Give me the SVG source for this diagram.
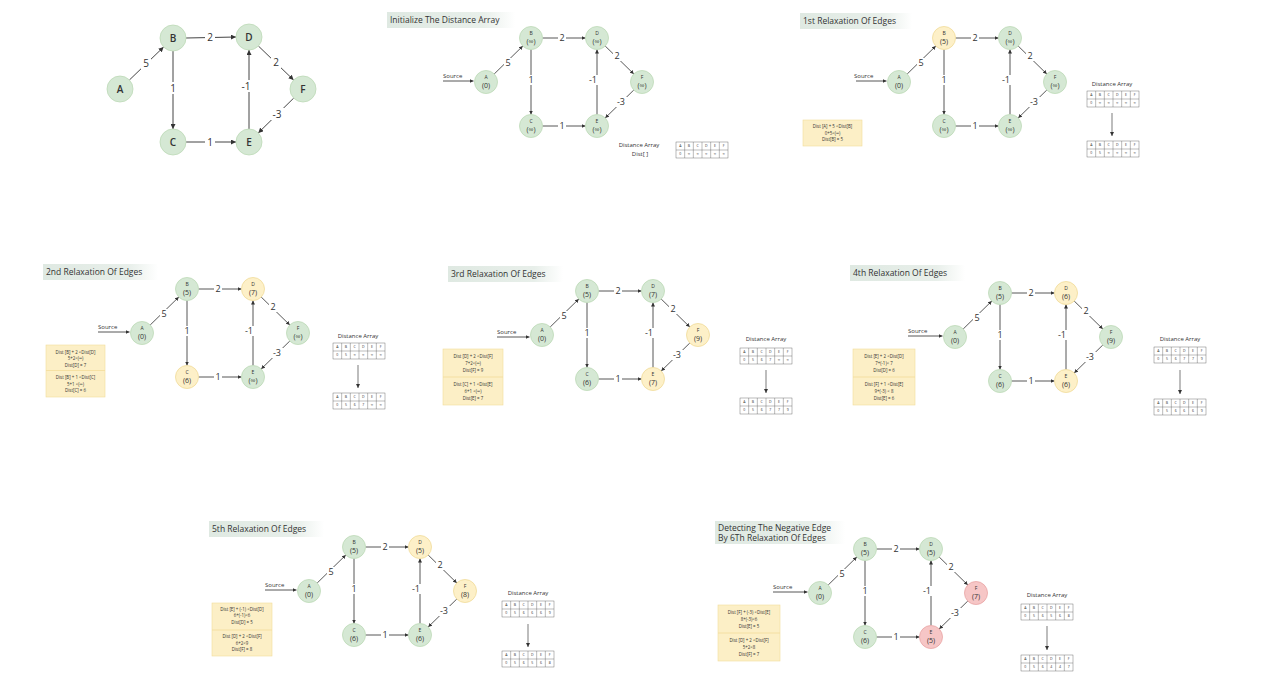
<svg xmlns="http://www.w3.org/2000/svg" xmlns:xlink="http://www.w3.org/1999/xlink" width="1280" height="683" viewBox="0 0 1280 683">
<defs>
<marker id="ah" viewBox="0 0 6 6" refX="6" refY="3" markerWidth="4" markerHeight="4" markerUnits="userSpaceOnUse" orient="auto"><path d="M0,0 L6,3 L0,6 z" fill="#333"/></marker>
<marker id="ahL" viewBox="0 0 6 6" refX="6" refY="3" markerWidth="5" markerHeight="5" markerUnits="userSpaceOnUse" orient="auto"><path d="M0,0 L6,3 L0,6 z" fill="#333"/></marker>
<linearGradient id="tg" x1="0" y1="0" x2="1" y2="0"><stop offset="0" stop-color="#dfe9e2"/><stop offset="0.75" stop-color="#e8efea"/><stop offset="1" stop-color="#ffffff"/></linearGradient>
<g id="grid">
<rect x="0" y="0" width="52" height="16" fill="#fff" stroke="#555" stroke-width="0.4"/>
<path d="M8.67,0V16M17.33,0V16M26,0V16M34.67,0V16M43.33,0V16M0,8H52" stroke="#555" stroke-width="0.4" fill="none"/>
</g>
</defs>
<style>
text{font-family:'Open Sans','Liberation Sans',sans-serif;fill:#333}
.e{stroke:#444;stroke-width:0.9;fill:none;marker-end:url(#ah)}
.e1{stroke:#444;stroke-width:1;fill:none;marker-end:url(#ahL)}
.bg{fill:#fff}
.lb{font-size:9px;text-anchor:middle}
.lb1{font-size:10px;text-anchor:middle}
.g{fill:#d5e8d4;stroke:#bdd9b6;stroke-width:0.8}
.y{fill:#fdf0c8;stroke:#f0da98;stroke-width:0.8}
.r{fill:#f6c6c6;stroke:#e9a5a5;stroke-width:0.8}
.nl{font-size:5px;text-anchor:middle}
.nv{font-size:7px;text-anchor:middle}
.n1{font-size:10px;text-anchor:middle;font-weight:600}
.ttl{font-size:8.5px}
.src{font-size:6px}
.box{fill:#fcefc6;stroke:#f2dc9b;stroke-width:0.6}
.sep{stroke:#f2dc9b;stroke-width:0.8}
.bt{font-size:4.4px;text-anchor:middle}
.da{font-size:6px;text-anchor:middle}
.tt{font-size:3.5px;text-anchor:middle}
.ar{stroke:#444;stroke-width:0.7;marker-end:url(#ah)}
</style>
<rect width="1280" height="683" fill="#fff"/>

<!-- Panel 1 -->
<g id="p1">
<g id="p1-connectors">
<line class="e1" x1="129.4" y1="80" x2="163.6" y2="47"/>
<line class="e1" x1="186" y1="38" x2="236" y2="37"/>
<line class="e1" x1="258.4" y1="46" x2="293.6" y2="80"/>
<line class="e1" x1="293.7" y1="98.1" x2="258.3" y2="132.9"/>
<line class="e1" x1="249" y1="129" x2="249" y2="50"/>
<line class="e1" x1="173" y1="51" x2="173" y2="129"/>
<line class="e1" x1="186" y1="142" x2="236" y2="142"/>
<rect class="bg" x="141" y="57" width="10" height="12"/><text class="lb1" x="146" y="66.5">5</text>
<rect class="bg" x="205" y="31" width="10" height="12"/><text class="lb1" x="210" y="40.5">2</text>
<rect class="bg" x="168" y="82" width="10" height="12"/><text class="lb1" x="173" y="91.5">1</text>
<rect class="bg" x="271" y="56" width="10" height="12"/><text class="lb1" x="276" y="65.5">2</text>
<rect class="bg" x="239" y="80" width="14" height="12"/><text class="lb1" x="246" y="89.5">-1</text>
<rect class="bg" x="270" y="108" width="14" height="12"/><text class="lb1" x="277" y="117.5">-3</text>
<rect class="bg" x="205" y="136" width="10" height="12"/><text class="lb1" x="210" y="145.5">1</text>
</g>
<g id="p1-A"><circle class="g" cx="120" cy="89" r="13"/><text class="n1" x="120" y="92.5">A</text></g>
<g id="p1-B"><circle class="g" cx="173" cy="38" r="13"/><text class="n1" x="173" y="41.5">B</text></g>
<g id="p1-D"><circle class="g" cx="249" cy="37" r="13"/><text class="n1" x="249" y="40.5">D</text></g>
<g id="p1-F"><circle class="g" cx="303" cy="89" r="13"/><text class="n1" x="303" y="92.5">F</text></g>
<g id="p1-C"><circle class="g" cx="173" cy="142" r="13"/><text class="n1" x="173" y="145.5">C</text></g>
<g id="p1-E"><circle class="g" cx="249" cy="142" r="13"/><text class="n1" x="249" y="145.5">E</text></g>
</g>

<!-- Panel 2 -->
<g id="p2">
<rect x="387" y="12" width="128" height="16" fill="url(#tg)"/>
<text class="ttl" x="390" y="23">Initialize The Distance Array</text>
<g transform="translate(486,82)">
<g id="p2-connectors">
<line class="e" x1="-43" y1="-1" x2="-12.5" y2="-1"/>
<line class="e" x1="8.2" y1="-8" x2="36.8" y2="-36"/>
<line class="e" x1="56.5" y1="-44" x2="99.5" y2="-44"/>
<line class="e" x1="119.2" y1="-36" x2="147.8" y2="-8"/>
<line class="e" x1="147.8" y1="8" x2="119.2" y2="36"/>
<line class="e" x1="111" y1="32.5" x2="111" y2="-32.5"/>
<line class="e" x1="45" y1="-32.5" x2="45" y2="32.5"/>
<line class="e" x1="56.5" y1="44" x2="99.5" y2="44"/>
<rect class="bg" x="18" y="-24" width="8" height="10"/><text class="lb" x="22" y="-15.8">5</text>
<rect class="bg" x="72" y="-49" width="8" height="10"/><text class="lb" x="76" y="-40.8">2</text>
<rect class="bg" x="127" y="-31" width="8" height="10"/><text class="lb" x="131" y="-22.8">2</text>
<rect class="bg" x="101" y="-7" width="12" height="10"/><text class="lb" x="107" y="1.2">-1</text>
<rect class="bg" x="129" y="15" width="12" height="10"/><text class="lb" x="135" y="23.2">-3</text>
<rect class="bg" x="41" y="-7" width="8" height="10"/><text class="lb" x="45" y="1.2">1</text>
<rect class="bg" x="72" y="39" width="8" height="10"/><text class="lb" x="76" y="47.2">1</text>
<text class="src" x="-43" y="-4">Source</text>
</g>
<g id="p2-A"><circle class="g" cx="0" cy="0" r="11.5"/><text class="nl" x="0" y="-3">A</text><text class="nv" x="0" y="5.5">(0)</text></g>
<g id="p2-B"><circle class="g" cx="45" cy="-44" r="11.5"/><text class="nl" x="45" y="-47">B</text><text class="nv" x="45" y="-38.5">(∞)</text></g>
<g id="p2-D"><circle class="g" cx="111" cy="-44" r="11.5"/><text class="nl" x="111" y="-47">D</text><text class="nv" x="111" y="-38.5">(∞)</text></g>
<g id="p2-F"><circle class="g" cx="156" cy="0" r="11.5"/><text class="nl" x="156" y="-3">F</text><text class="nv" x="156" y="5.5">(∞)</text></g>
<g id="p2-C"><circle class="g" cx="45" cy="44" r="11.5"/><text class="nl" x="45" y="41">C</text><text class="nv" x="45" y="49.5">(∞)</text></g>
<g id="p2-E"><circle class="g" cx="111" cy="44" r="11.5"/><text class="nl" x="111" y="41">E</text><text class="nv" x="111" y="49.5">(∞)</text></g>
</g>
<text class="da" x="639" y="147">Distance Array</text>
<text class="da" x="640" y="156">Dist[ ]</text>
<g id="p2-table"><use href="#grid" x="676" y="142"/>
<text class="tt" x="680.3" y="147.3">A</text><text class="tt" x="689" y="147.3">B</text><text class="tt" x="697.7" y="147.3">C</text><text class="tt" x="706.3" y="147.3">D</text><text class="tt" x="715" y="147.3">E</text><text class="tt" x="723.7" y="147.3">F</text>
<text class="tt" x="680.3" y="155.3">0</text><text class="tt" x="689" y="155.3">∞</text><text class="tt" x="697.7" y="155.3">∞</text><text class="tt" x="706.3" y="155.3">∞</text><text class="tt" x="715" y="155.3">∞</text><text class="tt" x="723.7" y="155.3">∞</text></g>
</g>

<!-- Panel 3 -->
<g id="p3">
<rect x="800" y="13" width="112" height="16" fill="url(#tg)"/>
<text class="ttl" x="803" y="24">1st Relaxation Of Edges</text>
<g transform="translate(899,82)">
<g id="p3-connectors">
<line class="e" x1="-43" y1="-1" x2="-12.5" y2="-1"/>
<line class="e" x1="8.2" y1="-8" x2="36.8" y2="-36"/>
<line class="e" x1="56.5" y1="-44" x2="99.5" y2="-44"/>
<line class="e" x1="119.2" y1="-36" x2="147.8" y2="-8"/>
<line class="e" x1="147.8" y1="8" x2="119.2" y2="36"/>
<line class="e" x1="111" y1="32.5" x2="111" y2="-32.5"/>
<line class="e" x1="45" y1="-32.5" x2="45" y2="32.5"/>
<line class="e" x1="56.5" y1="44" x2="99.5" y2="44"/>
<rect class="bg" x="18" y="-24" width="8" height="10"/><text class="lb" x="22" y="-15.8">5</text>
<rect class="bg" x="72" y="-49" width="8" height="10"/><text class="lb" x="76" y="-40.8">2</text>
<rect class="bg" x="127" y="-31" width="8" height="10"/><text class="lb" x="131" y="-22.8">2</text>
<rect class="bg" x="101" y="-7" width="12" height="10"/><text class="lb" x="107" y="1.2">-1</text>
<rect class="bg" x="129" y="15" width="12" height="10"/><text class="lb" x="135" y="23.2">-3</text>
<rect class="bg" x="41" y="-7" width="8" height="10"/><text class="lb" x="45" y="1.2">1</text>
<rect class="bg" x="72" y="39" width="8" height="10"/><text class="lb" x="76" y="47.2">1</text>
<text class="src" x="-45" y="-4">Source</text>
</g>
<g id="p3-A"><circle class="g" cx="0" cy="0" r="11.5"/><text class="nl" x="0" y="-3">A</text><text class="nv" x="0" y="5.5">(0)</text></g>
<g id="p3-B"><circle class="y" cx="45" cy="-44" r="11.5"/><text class="nl" x="45" y="-47">B</text><text class="nv" x="45" y="-38.5">(5)</text></g>
<g id="p3-D"><circle class="g" cx="111" cy="-44" r="11.5"/><text class="nl" x="111" y="-47">D</text><text class="nv" x="111" y="-38.5">(∞)</text></g>
<g id="p3-F"><circle class="g" cx="156" cy="0" r="11.5"/><text class="nl" x="156" y="-3">F</text><text class="nv" x="156" y="5.5">(∞)</text></g>
<g id="p3-C"><circle class="g" cx="45" cy="44" r="11.5"/><text class="nl" x="45" y="41">C</text><text class="nv" x="45" y="49.5">(∞)</text></g>
<g id="p3-E"><circle class="g" cx="111" cy="44" r="11.5"/><text class="nl" x="111" y="41">E</text><text class="nv" x="111" y="49.5">(∞)</text></g>
</g>
<g id="p3-note"><rect class="box" x="803" y="120" width="59" height="26"/>
<text class="bt" x="832.5" y="128">Dist [A] + 5 &lt;Dist[B]</text>
<text class="bt" x="832.5" y="134.5">0+5&lt;(∞)</text>
<text class="bt" x="832.5" y="141">Dist[B] = 5</text></g>
<text class="da" x="1112" y="86">Distance Array</text>
<g id="p3-table1"><use href="#grid" x="1087" y="91"/>
<text class="tt" x="1091.3" y="96.3">A</text><text class="tt" x="1100" y="96.3">B</text><text class="tt" x="1108.7" y="96.3">C</text><text class="tt" x="1117.3" y="96.3">D</text><text class="tt" x="1126" y="96.3">E</text><text class="tt" x="1134.7" y="96.3">F</text>
<text class="tt" x="1091.3" y="104.3">0</text><text class="tt" x="1100" y="104.3">∞</text><text class="tt" x="1108.7" y="104.3">∞</text><text class="tt" x="1117.3" y="104.3">∞</text><text class="tt" x="1126" y="104.3">∞</text><text class="tt" x="1134.7" y="104.3">∞</text></g>
<line class="ar" x1="1112" y1="113" x2="1112" y2="136"/>
<g id="p3-table2"><use href="#grid" x="1087" y="141"/>
<text class="tt" x="1091.3" y="146.3">A</text><text class="tt" x="1100" y="146.3">B</text><text class="tt" x="1108.7" y="146.3">C</text><text class="tt" x="1117.3" y="146.3">D</text><text class="tt" x="1126" y="146.3">E</text><text class="tt" x="1134.7" y="146.3">F</text>
<text class="tt" x="1091.3" y="154.3">0</text><text class="tt" x="1100" y="154.3">5</text><text class="tt" x="1108.7" y="154.3">∞</text><text class="tt" x="1117.3" y="154.3">∞</text><text class="tt" x="1126" y="154.3">∞</text><text class="tt" x="1134.7" y="154.3">∞</text></g>
</g>

<!-- Panel 4 -->
<g id="p4">
<rect x="43" y="264" width="115" height="16" fill="url(#tg)"/>
<text class="ttl" x="46" y="275">2nd Relaxation Of Edges</text>
<g transform="translate(142,333)">
<g id="p4-connectors">
<line class="e" x1="-44" y1="-1" x2="-12.5" y2="-1"/>
<line class="e" x1="8.2" y1="-8" x2="36.8" y2="-36"/>
<line class="e" x1="56.5" y1="-44" x2="99.5" y2="-44"/>
<line class="e" x1="119.2" y1="-36" x2="147.8" y2="-8"/>
<line class="e" x1="147.8" y1="8" x2="119.2" y2="36"/>
<line class="e" x1="111" y1="32.5" x2="111" y2="-32.5"/>
<line class="e" x1="45" y1="-32.5" x2="45" y2="32.5"/>
<line class="e" x1="56.5" y1="44" x2="99.5" y2="44"/>
<rect class="bg" x="18" y="-24" width="8" height="10"/><text class="lb" x="22" y="-15.8">5</text>
<rect class="bg" x="72" y="-49" width="8" height="10"/><text class="lb" x="76" y="-40.8">2</text>
<rect class="bg" x="127" y="-31" width="8" height="10"/><text class="lb" x="131" y="-22.8">2</text>
<rect class="bg" x="101" y="-7" width="12" height="10"/><text class="lb" x="107" y="1.2">-1</text>
<rect class="bg" x="129" y="15" width="12" height="10"/><text class="lb" x="135" y="23.2">-3</text>
<rect class="bg" x="41" y="-7" width="8" height="10"/><text class="lb" x="45" y="1.2">1</text>
<rect class="bg" x="72" y="39" width="8" height="10"/><text class="lb" x="76" y="47.2">1</text>
<text class="src" x="-44" y="-4">Source</text>
</g>
<g id="p4-A"><circle class="g" cx="0" cy="0" r="11.5"/><text class="nl" x="0" y="-3">A</text><text class="nv" x="0" y="5.5">(0)</text></g>
<g id="p4-B"><circle class="g" cx="45" cy="-44" r="11.5"/><text class="nl" x="45" y="-47">B</text><text class="nv" x="45" y="-38.5">(5)</text></g>
<g id="p4-D"><circle class="y" cx="111" cy="-44" r="11.5"/><text class="nl" x="111" y="-47">D</text><text class="nv" x="111" y="-38.5">(7)</text></g>
<g id="p4-F"><circle class="g" cx="156" cy="0" r="11.5"/><text class="nl" x="156" y="-3">F</text><text class="nv" x="156" y="5.5">(∞)</text></g>
<g id="p4-C"><circle class="y" cx="45" cy="44" r="11.5"/><text class="nl" x="45" y="41">C</text><text class="nv" x="45" y="49.5">(6)</text></g>
<g id="p4-E"><circle class="g" cx="111" cy="44" r="11.5"/><text class="nl" x="111" y="41">E</text><text class="nv" x="111" y="49.5">(∞)</text></g>
</g>
<g id="p4-note"><rect class="box" x="46" y="345" width="59" height="52"/>
<line class="sep" x1="46" y1="370.5" x2="105" y2="370.5"/>
<text class="bt" x="75.5" y="353.5">Dist [B] + 2 &lt;Dist[D]</text>
<text class="bt" x="75.5" y="360">5+2&lt;(∞)</text>
<text class="bt" x="75.5" y="366.5">Dist[D] = 7</text>
<text class="bt" x="75.5" y="379">Dist [B] + 1 &lt;Dist[C]</text>
<text class="bt" x="75.5" y="385.5">5+1 &lt;(∞)</text>
<text class="bt" x="75.5" y="392">Dist[C] = 6</text></g>
<text class="da" x="358" y="338">Distance Array</text>
<g id="p4-table1"><use href="#grid" x="333" y="343"/>
<text class="tt" x="337.3" y="348.3">A</text><text class="tt" x="346" y="348.3">B</text><text class="tt" x="354.7" y="348.3">C</text><text class="tt" x="363.3" y="348.3">D</text><text class="tt" x="372" y="348.3">E</text><text class="tt" x="380.7" y="348.3">F</text>
<text class="tt" x="337.3" y="356.3">0</text><text class="tt" x="346" y="356.3">5</text><text class="tt" x="354.7" y="356.3">∞</text><text class="tt" x="363.3" y="356.3">∞</text><text class="tt" x="372" y="356.3">∞</text><text class="tt" x="380.7" y="356.3">∞</text></g>
<line class="ar" x1="358" y1="365" x2="358" y2="388"/>
<g id="p4-table2"><use href="#grid" x="333" y="393"/>
<text class="tt" x="337.3" y="398.3">A</text><text class="tt" x="346" y="398.3">B</text><text class="tt" x="354.7" y="398.3">C</text><text class="tt" x="363.3" y="398.3">D</text><text class="tt" x="372" y="398.3">E</text><text class="tt" x="380.7" y="398.3">F</text>
<text class="tt" x="337.3" y="406.3">0</text><text class="tt" x="346" y="406.3">5</text><text class="tt" x="354.7" y="406.3">6</text><text class="tt" x="363.3" y="406.3">7</text><text class="tt" x="372" y="406.3">∞</text><text class="tt" x="380.7" y="406.3">∞</text></g>
</g>

<!-- Panel 5 -->
<g id="p5">
<rect x="448" y="266" width="115" height="16" fill="url(#tg)"/>
<text class="ttl" x="451" y="277">3rd Relaxation Of Edges</text>
<g transform="translate(542,335)">
<g id="p5-connectors">
<line class="e" x1="-45" y1="2" x2="-12.5" y2="2"/>
<line class="e" x1="8.2" y1="-8" x2="36.8" y2="-36"/>
<line class="e" x1="56.5" y1="-44" x2="99.5" y2="-44"/>
<line class="e" x1="119.2" y1="-36" x2="147.8" y2="-8"/>
<line class="e" x1="147.8" y1="8" x2="119.2" y2="36"/>
<line class="e" x1="111" y1="32.5" x2="111" y2="-32.5"/>
<line class="e" x1="45" y1="-32.5" x2="45" y2="32.5"/>
<line class="e" x1="56.5" y1="44" x2="99.5" y2="44"/>
<rect class="bg" x="18" y="-24" width="8" height="10"/><text class="lb" x="22" y="-15.8">5</text>
<rect class="bg" x="72" y="-49" width="8" height="10"/><text class="lb" x="76" y="-40.8">2</text>
<rect class="bg" x="127" y="-31" width="8" height="10"/><text class="lb" x="131" y="-22.8">2</text>
<rect class="bg" x="101" y="-7" width="12" height="10"/><text class="lb" x="107" y="1.2">-1</text>
<rect class="bg" x="129" y="15" width="12" height="10"/><text class="lb" x="135" y="23.2">-3</text>
<rect class="bg" x="41" y="-7" width="8" height="10"/><text class="lb" x="45" y="1.2">1</text>
<rect class="bg" x="72" y="39" width="8" height="10"/><text class="lb" x="76" y="47.2">1</text>
<text class="src" x="-45" y="-1">Source</text>
</g>
<g id="p5-A"><circle class="g" cx="0" cy="0" r="11.5"/><text class="nl" x="0" y="-3">A</text><text class="nv" x="0" y="5.5">(0)</text></g>
<g id="p5-B"><circle class="g" cx="45" cy="-44" r="11.5"/><text class="nl" x="45" y="-47">B</text><text class="nv" x="45" y="-38.5">(5)</text></g>
<g id="p5-D"><circle class="g" cx="111" cy="-44" r="11.5"/><text class="nl" x="111" y="-47">D</text><text class="nv" x="111" y="-38.5">(7)</text></g>
<g id="p5-F"><circle class="y" cx="156" cy="0" r="11.5"/><text class="nl" x="156" y="-3">F</text><text class="nv" x="156" y="5.5">(9)</text></g>
<g id="p5-C"><circle class="g" cx="45" cy="44" r="11.5"/><text class="nl" x="45" y="41">C</text><text class="nv" x="45" y="49.5">(6)</text></g>
<g id="p5-E"><circle class="y" cx="111" cy="44" r="11.5"/><text class="nl" x="111" y="41">E</text><text class="nv" x="111" y="49.5">(7)</text></g>
</g>
<g id="p5-note"><rect class="box" x="443" y="349" width="60" height="56"/>
<line class="sep" x1="443" y1="377" x2="503" y2="377"/>
<text class="bt" x="473" y="357.5">Dist [D] + 2 &lt;Dist[F]</text>
<text class="bt" x="473" y="364.5">7+2&lt;(∞)</text>
<text class="bt" x="473" y="371.5">Dist[F] = 9</text>
<text class="bt" x="473" y="386">Dist [C] + 1 &lt;Dist[E]</text>
<text class="bt" x="473" y="393">6+1 &lt;(∞)</text>
<text class="bt" x="473" y="400">Dist[E] = 7</text></g>
<text class="da" x="766" y="341">Distance Array</text>
<g id="p5-table1"><use href="#grid" x="740" y="348"/>
<text class="tt" x="744.3" y="353.3">A</text><text class="tt" x="753" y="353.3">B</text><text class="tt" x="761.7" y="353.3">C</text><text class="tt" x="770.3" y="353.3">D</text><text class="tt" x="779" y="353.3">E</text><text class="tt" x="787.7" y="353.3">F</text>
<text class="tt" x="744.3" y="361.3">0</text><text class="tt" x="753" y="361.3">5</text><text class="tt" x="761.7" y="361.3">6</text><text class="tt" x="770.3" y="361.3">7</text><text class="tt" x="779" y="361.3">∞</text><text class="tt" x="787.7" y="361.3">∞</text></g>
<line class="ar" x1="766" y1="370" x2="766" y2="393"/>
<g id="p5-table2"><use href="#grid" x="740" y="398"/>
<text class="tt" x="744.3" y="403.3">A</text><text class="tt" x="753" y="403.3">B</text><text class="tt" x="761.7" y="403.3">C</text><text class="tt" x="770.3" y="403.3">D</text><text class="tt" x="779" y="403.3">E</text><text class="tt" x="787.7" y="403.3">F</text>
<text class="tt" x="744.3" y="411.3">0</text><text class="tt" x="753" y="411.3">5</text><text class="tt" x="761.7" y="411.3">6</text><text class="tt" x="770.3" y="411.3">7</text><text class="tt" x="779" y="411.3">7</text><text class="tt" x="787.7" y="411.3">9</text></g>
</g>

<!-- Panel 6 -->
<g id="p6">
<rect x="850" y="265" width="115" height="16" fill="url(#tg)"/>
<text class="ttl" x="853" y="276">4th Relaxation Of Edges</text>
<g transform="translate(955,337)">
<g id="p6-connectors">
<line class="e" x1="-47" y1="-1" x2="-12.5" y2="-1"/>
<line class="e" x1="8.2" y1="-8" x2="36.8" y2="-36"/>
<line class="e" x1="56.5" y1="-44" x2="99.5" y2="-44"/>
<line class="e" x1="119.2" y1="-36" x2="147.8" y2="-8"/>
<line class="e" x1="147.8" y1="8" x2="119.2" y2="36"/>
<line class="e" x1="111" y1="32.5" x2="111" y2="-32.5"/>
<line class="e" x1="45" y1="-32.5" x2="45" y2="32.5"/>
<line class="e" x1="56.5" y1="44" x2="99.5" y2="44"/>
<rect class="bg" x="18" y="-24" width="8" height="10"/><text class="lb" x="22" y="-15.8">5</text>
<rect class="bg" x="72" y="-49" width="8" height="10"/><text class="lb" x="76" y="-40.8">2</text>
<rect class="bg" x="127" y="-31" width="8" height="10"/><text class="lb" x="131" y="-22.8">2</text>
<rect class="bg" x="101" y="-7" width="12" height="10"/><text class="lb" x="107" y="1.2">-1</text>
<rect class="bg" x="129" y="15" width="12" height="10"/><text class="lb" x="135" y="23.2">-3</text>
<rect class="bg" x="41" y="-7" width="8" height="10"/><text class="lb" x="45" y="1.2">1</text>
<rect class="bg" x="72" y="39" width="8" height="10"/><text class="lb" x="76" y="47.2">1</text>
<text class="src" x="-47" y="-4">Source</text>
</g>
<g id="p6-A"><circle class="g" cx="0" cy="0" r="11.5"/><text class="nl" x="0" y="-3">A</text><text class="nv" x="0" y="5.5">(0)</text></g>
<g id="p6-B"><circle class="g" cx="45" cy="-44" r="11.5"/><text class="nl" x="45" y="-47">B</text><text class="nv" x="45" y="-38.5">(5)</text></g>
<g id="p6-D"><circle class="y" cx="111" cy="-44" r="11.5"/><text class="nl" x="111" y="-47">D</text><text class="nv" x="111" y="-38.5">(6)</text></g>
<g id="p6-F"><circle class="g" cx="156" cy="0" r="11.5"/><text class="nl" x="156" y="-3">F</text><text class="nv" x="156" y="5.5">(9)</text></g>
<g id="p6-C"><circle class="g" cx="45" cy="44" r="11.5"/><text class="nl" x="45" y="41">C</text><text class="nv" x="45" y="49.5">(6)</text></g>
<g id="p6-E"><circle class="y" cx="111" cy="44" r="11.5"/><text class="nl" x="111" y="41">E</text><text class="nv" x="111" y="49.5">(6)</text></g>
</g>
<g id="p6-note"><rect class="box" x="853" y="349" width="62" height="56"/>
<line class="sep" x1="853" y1="377" x2="915" y2="377"/>
<text class="bt" x="884" y="357.5">Dist [E] + 2 &lt;Dist[D]</text>
<text class="bt" x="884" y="364.5">7+(-1)&lt; 7</text>
<text class="bt" x="884" y="371.5">Dist[D] = 6</text>
<text class="bt" x="884" y="386">Dist [F] + 1 &lt;Dist[E]</text>
<text class="bt" x="884" y="393">9+(-3) &lt; 8</text>
<text class="bt" x="884" y="400">Dist[E] = 6</text></g>
<text class="da" x="1180" y="341">Distance Array</text>
<g id="p6-table1"><use href="#grid" x="1154" y="347"/>
<text class="tt" x="1158.3" y="352.3">A</text><text class="tt" x="1167" y="352.3">B</text><text class="tt" x="1175.7" y="352.3">C</text><text class="tt" x="1184.3" y="352.3">D</text><text class="tt" x="1193" y="352.3">E</text><text class="tt" x="1201.7" y="352.3">F</text>
<text class="tt" x="1158.3" y="360.3">0</text><text class="tt" x="1167" y="360.3">5</text><text class="tt" x="1175.7" y="360.3">6</text><text class="tt" x="1184.3" y="360.3">7</text><text class="tt" x="1193" y="360.3">7</text><text class="tt" x="1201.7" y="360.3">9</text></g>
<line class="ar" x1="1180" y1="370" x2="1180" y2="394"/>
<g id="p6-table2"><use href="#grid" x="1154" y="399"/>
<text class="tt" x="1158.3" y="404.3">A</text><text class="tt" x="1167" y="404.3">B</text><text class="tt" x="1175.7" y="404.3">C</text><text class="tt" x="1184.3" y="404.3">D</text><text class="tt" x="1193" y="404.3">E</text><text class="tt" x="1201.7" y="404.3">F</text>
<text class="tt" x="1158.3" y="412.3">0</text><text class="tt" x="1167" y="412.3">5</text><text class="tt" x="1175.7" y="412.3">6</text><text class="tt" x="1184.3" y="412.3">6</text><text class="tt" x="1193" y="412.3">6</text><text class="tt" x="1201.7" y="412.3">9</text></g>
</g>

<!-- Panel 7 -->
<g id="p7">
<rect x="209" y="521" width="115" height="16" fill="url(#tg)"/>
<text class="ttl" x="212" y="532">5th Relaxation Of Edges</text>
<g transform="translate(309,591)">
<g id="p7-connectors">
<line class="e" x1="-44" y1="-1" x2="-12.5" y2="-1"/>
<line class="e" x1="8.2" y1="-8" x2="36.8" y2="-36"/>
<line class="e" x1="56.5" y1="-44" x2="99.5" y2="-44"/>
<line class="e" x1="119.2" y1="-36" x2="147.8" y2="-8"/>
<line class="e" x1="147.8" y1="8" x2="119.2" y2="36"/>
<line class="e" x1="111" y1="32.5" x2="111" y2="-32.5"/>
<line class="e" x1="45" y1="-32.5" x2="45" y2="32.5"/>
<line class="e" x1="56.5" y1="44" x2="99.5" y2="44"/>
<rect class="bg" x="18" y="-24" width="8" height="10"/><text class="lb" x="22" y="-15.8">5</text>
<rect class="bg" x="72" y="-49" width="8" height="10"/><text class="lb" x="76" y="-40.8">2</text>
<rect class="bg" x="127" y="-31" width="8" height="10"/><text class="lb" x="131" y="-22.8">2</text>
<rect class="bg" x="101" y="-7" width="12" height="10"/><text class="lb" x="107" y="1.2">-1</text>
<rect class="bg" x="129" y="15" width="12" height="10"/><text class="lb" x="135" y="23.2">-3</text>
<rect class="bg" x="41" y="-7" width="8" height="10"/><text class="lb" x="45" y="1.2">1</text>
<rect class="bg" x="72" y="39" width="8" height="10"/><text class="lb" x="76" y="47.2">1</text>
<text class="src" x="-44" y="-4">Source</text>
</g>
<g id="p7-A"><circle class="g" cx="0" cy="0" r="11.5"/><text class="nl" x="0" y="-3">A</text><text class="nv" x="0" y="5.5">(0)</text></g>
<g id="p7-B"><circle class="g" cx="45" cy="-44" r="11.5"/><text class="nl" x="45" y="-47">B</text><text class="nv" x="45" y="-38.5">(5)</text></g>
<g id="p7-D"><circle class="y" cx="111" cy="-44" r="11.5"/><text class="nl" x="111" y="-47">D</text><text class="nv" x="111" y="-38.5">(5)</text></g>
<g id="p7-F"><circle class="y" cx="156" cy="0" r="11.5"/><text class="nl" x="156" y="-3">F</text><text class="nv" x="156" y="5.5">(8)</text></g>
<g id="p7-C"><circle class="g" cx="45" cy="44" r="11.5"/><text class="nl" x="45" y="41">C</text><text class="nv" x="45" y="49.5">(6)</text></g>
<g id="p7-E"><circle class="g" cx="111" cy="44" r="11.5"/><text class="nl" x="111" y="41">E</text><text class="nv" x="111" y="49.5">(6)</text></g>
</g>
<g id="p7-note"><rect class="box" x="212" y="603" width="60" height="53"/>
<line class="sep" x1="212" y1="630" x2="272" y2="630"/>
<text class="bt" x="242" y="610.5">Dist [E] + (-1) &lt;Dist[D]</text>
<text class="bt" x="242" y="617">6+(-1)&lt;6</text>
<text class="bt" x="242" y="623.5">Dist[D] = 5</text>
<text class="bt" x="242" y="638">Dist [D] + 2 &lt;Dist[F]</text>
<text class="bt" x="242" y="644.5">6+2&lt;9</text>
<text class="bt" x="242" y="651">Dist[F] = 8</text></g>
<text class="da" x="528" y="595">Distance Array</text>
<g id="p7-table1"><use href="#grid" x="502" y="601"/>
<text class="tt" x="506.3" y="606.3">A</text><text class="tt" x="515" y="606.3">B</text><text class="tt" x="523.7" y="606.3">C</text><text class="tt" x="532.3" y="606.3">D</text><text class="tt" x="541" y="606.3">E</text><text class="tt" x="549.7" y="606.3">F</text>
<text class="tt" x="506.3" y="614.3">0</text><text class="tt" x="515" y="614.3">5</text><text class="tt" x="523.7" y="614.3">6</text><text class="tt" x="532.3" y="614.3">6</text><text class="tt" x="541" y="614.3">6</text><text class="tt" x="549.7" y="614.3">9</text></g>
<line class="ar" x1="528" y1="624" x2="528" y2="647"/>
<g id="p7-table2"><use href="#grid" x="502" y="651"/>
<text class="tt" x="506.3" y="656.3">A</text><text class="tt" x="515" y="656.3">B</text><text class="tt" x="523.7" y="656.3">C</text><text class="tt" x="532.3" y="656.3">D</text><text class="tt" x="541" y="656.3">E</text><text class="tt" x="549.7" y="656.3">F</text>
<text class="tt" x="506.3" y="664.3">0</text><text class="tt" x="515" y="664.3">5</text><text class="tt" x="523.7" y="664.3">6</text><text class="tt" x="532.3" y="664.3">5</text><text class="tt" x="541" y="664.3">6</text><text class="tt" x="549.7" y="664.3">8</text></g>
</g>

<!-- Panel 8 -->
<g id="p8">
<rect x="715" y="521" width="130" height="23" fill="url(#tg)"/>
<text class="ttl" x="718" y="531">Detecting The Negative Edge</text>
<text class="ttl" x="718" y="541">By 6Th Relaxation Of Edges</text>
<g transform="translate(820,593)">
<g id="p8-connectors">
<line class="e" x1="-47" y1="-1" x2="-12.5" y2="-1"/>
<line class="e" x1="8.2" y1="-8" x2="36.8" y2="-36"/>
<line class="e" x1="56.5" y1="-44" x2="99.5" y2="-44"/>
<line class="e" x1="119.2" y1="-36" x2="147.8" y2="-8"/>
<line class="e" x1="147.8" y1="8" x2="119.2" y2="36"/>
<line class="e" x1="111" y1="32.5" x2="111" y2="-32.5"/>
<line class="e" x1="45" y1="-32.5" x2="45" y2="32.5"/>
<line class="e" x1="56.5" y1="44" x2="99.5" y2="44"/>
<rect class="bg" x="18" y="-24" width="8" height="10"/><text class="lb" x="22" y="-15.8">5</text>
<rect class="bg" x="72" y="-49" width="8" height="10"/><text class="lb" x="76" y="-40.8">2</text>
<rect class="bg" x="127" y="-31" width="8" height="10"/><text class="lb" x="131" y="-22.8">2</text>
<rect class="bg" x="101" y="-7" width="12" height="10"/><text class="lb" x="107" y="1.2">-1</text>
<rect class="bg" x="129" y="15" width="12" height="10"/><text class="lb" x="135" y="23.2">-3</text>
<rect class="bg" x="41" y="-7" width="8" height="10"/><text class="lb" x="45" y="1.2">1</text>
<rect class="bg" x="72" y="39" width="8" height="10"/><text class="lb" x="76" y="47.2">1</text>
<text class="src" x="-47" y="-4">Source</text>
</g>
<g id="p8-A"><circle class="g" cx="0" cy="0" r="11.5"/><text class="nl" x="0" y="-3">A</text><text class="nv" x="0" y="5.5">(0)</text></g>
<g id="p8-B"><circle class="g" cx="45" cy="-44" r="11.5"/><text class="nl" x="45" y="-47">B</text><text class="nv" x="45" y="-38.5">(5)</text></g>
<g id="p8-D"><circle class="g" cx="111" cy="-44" r="11.5"/><text class="nl" x="111" y="-47">D</text><text class="nv" x="111" y="-38.5">(5)</text></g>
<g id="p8-F"><circle class="r" cx="156" cy="0" r="11.5"/><text class="nl" x="156" y="-3">F</text><text class="nv" x="156" y="5.5">(7)</text></g>
<g id="p8-C"><circle class="g" cx="45" cy="44" r="11.5"/><text class="nl" x="45" y="41">C</text><text class="nv" x="45" y="49.5">(6)</text></g>
<g id="p8-E"><circle class="r" cx="111" cy="44" r="11.5"/><text class="nl" x="111" y="41">E</text><text class="nv" x="111" y="49.5">(5)</text></g>
</g>
<g id="p8-note"><rect class="box" x="718" y="605" width="62" height="56"/>
<line class="sep" x1="718" y1="633" x2="780" y2="633"/>
<text class="bt" x="749" y="613.5">Dist [F] + (-3) &lt;Dist[E]</text>
<text class="bt" x="749" y="620.5">8+(-3)&lt;6</text>
<text class="bt" x="749" y="627.5">Dist[E] = 5</text>
<text class="bt" x="749" y="642">Dist [D] + 2 &lt;Dist[F]</text>
<text class="bt" x="749" y="649">5+2&lt;8</text>
<text class="bt" x="749" y="656">Dist[F] = 7</text></g>
<text class="da" x="1047" y="597">Distance Array</text>
<g id="p8-table1"><use href="#grid" x="1021" y="604"/>
<text class="tt" x="1025.3" y="609.3">A</text><text class="tt" x="1034" y="609.3">B</text><text class="tt" x="1042.7" y="609.3">C</text><text class="tt" x="1051.3" y="609.3">D</text><text class="tt" x="1060" y="609.3">E</text><text class="tt" x="1068.7" y="609.3">F</text>
<text class="tt" x="1025.3" y="617.3">0</text><text class="tt" x="1034" y="617.3">5</text><text class="tt" x="1042.7" y="617.3">6</text><text class="tt" x="1051.3" y="617.3">5</text><text class="tt" x="1060" y="617.3">6</text><text class="tt" x="1068.7" y="617.3">8</text></g>
<line class="ar" x1="1047" y1="626" x2="1047" y2="650"/>
<g id="p8-table2"><use href="#grid" x="1021" y="655"/>
<text class="tt" x="1025.3" y="660.3">A</text><text class="tt" x="1034" y="660.3">B</text><text class="tt" x="1042.7" y="660.3">C</text><text class="tt" x="1051.3" y="660.3">D</text><text class="tt" x="1060" y="660.3">E</text><text class="tt" x="1068.7" y="660.3">F</text>
<text class="tt" x="1025.3" y="668.3">0</text><text class="tt" x="1034" y="668.3">5</text><text class="tt" x="1042.7" y="668.3">6</text><text class="tt" x="1051.3" y="668.3">4</text><text class="tt" x="1060" y="668.3">4</text><text class="tt" x="1068.7" y="668.3">7</text></g>
</g>
</svg>
